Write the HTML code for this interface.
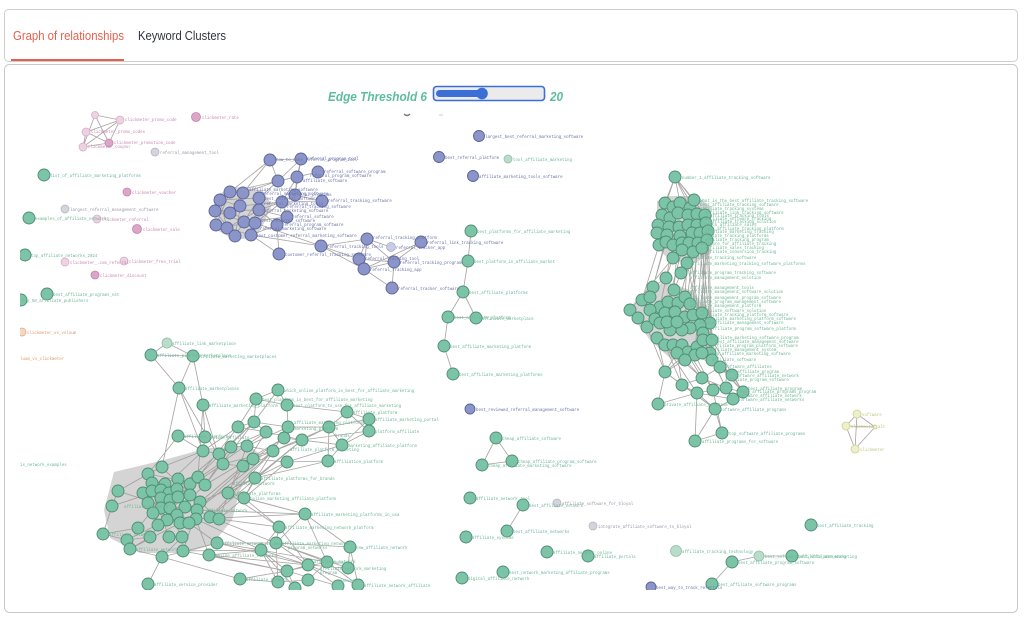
<!DOCTYPE html>
<html><head><meta charset="utf-8"><style>
html,body{margin:0;padding:0;background:#fff;width:1024px;height:622px;overflow:hidden}
svg{display:block}
.g{fill:#7cc4a7;stroke:#4f8c74;stroke-width:.9}
.gl{fill:#b9dccb;stroke:#93bfa9;stroke-width:.8}
.b{fill:#8b95c9;stroke:#5b6599;stroke-width:.9}
.p{fill:#dba6c8;stroke:#c283ab;stroke-width:.8}
.pl{fill:#ecd3e2;stroke:#d8a9c6;stroke-width:.7}
.q{fill:#d4d4dc;stroke:#b3b3bf;stroke-width:.7}
.y{fill:#eef0cc;stroke:#cdd196;stroke-width:.8}
.o{fill:#f4d8c2;stroke:#d9a985;stroke-width:.7}
text.l{font-family:"Liberation Mono",monospace;font-size:4.1px}
.tg{fill:#6fb697}.tb{fill:#6b74a8}.tp{fill:#c98ab1}.tq{fill:#9a9aa8}.ty{fill:#c2c67e}.to{fill:#dc9a6c}
.e{stroke:#9c9595;stroke-width:.85;fill:none;opacity:.85}
</style></head><body>
<svg width="1024" height="622" viewBox="0 0 1024 622" xmlns="http://www.w3.org/2000/svg">
<defs><clipPath id="cv"><rect x="20" y="68" width="990" height="522"/></clipPath></defs>
<rect x="4.5" y="9.5" width="1013" height="52" rx="4" fill="#fff" stroke="#cfcfcf"/>
<rect x="4.5" y="64.5" width="1013" height="548" rx="5" fill="#fff" stroke="#c9c9c9"/>
<rect x="11" y="59" width="113" height="2" fill="#e5604c"/>
<text x="13" y="40" textLength="111" lengthAdjust="spacingAndGlyphs" font-family="Liberation Sans,sans-serif" font-size="12.5" fill="#e5604c">Graph of relationships</text>
<text x="138" y="40" textLength="88" lengthAdjust="spacingAndGlyphs" font-family="Liberation Sans,sans-serif" font-size="12.5" fill="#31333f">Keyword Clusters</text>
<text x="328" y="101" textLength="99" lengthAdjust="spacingAndGlyphs" font-family="Liberation Sans,sans-serif" font-size="12.5" font-weight="bold" font-style="italic" fill="#5dbd9b">Edge Threshold 6</text>
<rect x="433.5" y="86.5" width="111" height="14" rx="3" fill="#ebebeb" stroke="#3b6fd6" stroke-width="1.6"/>
<rect x="436" y="90" width="46" height="7" rx="3.5" fill="#3b6fd6"/>
<circle cx="482" cy="93.5" r="5.8" fill="#3b6fd6"/>
<text x="550" y="101" textLength="13" lengthAdjust="spacingAndGlyphs" font-family="Liberation Sans,sans-serif" font-size="12.5" font-weight="bold" font-style="italic" fill="#5dbd9b">20</text>
<path d="M404 114 q3 3 6 0" stroke="#777" stroke-width="1.4" fill="none"/>
<path d="M439 115 h4" stroke="#ccc" stroke-width="1"/>

<g clip-path="url(#cv)">
<g fill="#8f8f8f" opacity=".38">
<polygon points="214,196 235,187 262,190 272,205 263,225 256,237 235,240 215,229"/>
<polygon points="657,201 670,196 697,196 711,207 711,253 695,263 670,261 657,247"/>
<polygon points="632,305 646,291 665,281 690,290 711,311 713,343 699,360 671,359 651,341 636,322"/>
<polygon points="114,472 160,461 208,448 250,446 262,456 240,490 232,520 212,545 185,553 140,553 110,538 104,510"/>
</g>
<path class="e" d="
M95 115L120 120M95 115L83 147M95 115L109 143M86 132L120 120M86 132L109 143M120 120L109 143M83 147L109 143M83 147L120 120M86 132L83 147
M270 160L230 192M270 160L301 159M270 160L278 181M301 159L278 181M301 159L297 177M297 177L278 181M318 172L297 177M297 177L295 195M278 181L243 193M278 181L259 198M295 195L282 202M322 201L295 195M282 202L259 210M287 217L282 202M321 246L255 223M279 254L277 225M279 254L251 235M321 246L367 239M321 246L359 259M367 239L359 259M367 239L394 262M359 259L364 269M364 269L394 262M394 262L421 242M364 269L392 288M394 262L392 288M359 259L394 262M367 239L364 269M421 242L364 269M391 247L367 239M321 246L364 269M270 160L243 193M301 159L295 195M318 172L278 181M322 201L282 202M297 177L282 202M287 217L259 210M277 225L287 217M251 235L321 246M270 160L220 200M278 181L230 192
M230 192L243 193M220 200L259 198M215 211L259 210M230 213L255 223M216 225L251 235M227 228L244 222M235 236L259 198M220 200L227 228M230 192L216 225M243 193L235 236M240 206L282 202M259 198L251 235M215 211L244 222M230 213L243 193M220 200L240 206M227 228L259 210M216 225L230 192M255 223L282 202M235 236L215 211M251 235L277 225M244 222L287 217M259 210L277 225
M471 231L468 261M468 261L463 292M463 292L448 317M463 292L476 318M448 317L476 318M448 317L444 346M444 346L453 374
M496 438L482 465M496 438L512 461M482 465L512 461M523 505L507 531M759 556L732 562M759 556L792 556M732 562L712 584
M857 414L846 426M857 414L875 427M846 426L875 427M857 414L855 449M846 426L855 449M875 427L855 449
M675 177L665 203M675 177L694 200M675 177L690 208M675 177L680 203M675 177L708 231M675 177L662 215M675 177L705 215
M673 258L666 278M687 263L681 273M681 273L674 290M666 278L653 287M687 263L685 297M700 233L690 304M707 240L703 333M708 231L712 340M705 215L702 313M697 243L693 315M702 248L710 323M682 250L668 302M673 245L660 307M693 252L678 303M689 243L700 325M698 225L710 353M706 223L712 360M666 242L650 297M659 245L642 300M673 258L630 310M687 263L703 340M702 248L695 355M667 235L653 287M679 227L674 290M693 252L685 317M707 240L697 347
M665 372L657 338M665 372L682 385M682 385L697 393M697 393L713 390M713 390L726 388M726 388L743 392M733 399L743 392M715 409L733 399M715 409L697 393M658 404L665 372M720 367L732 375M702 378L720 367M702 378L682 385M712 360L720 367M685 360L702 378M688 352L665 372M720 367L743 392M732 375L743 392M715 409L722 433M697 393L695 441M722 433L695 441M715 409L695 441M713 390L722 433M710 353L732 375M712 360L726 388M695 355L713 390M677 353L665 372M682 345L702 378M703 340L720 367M665 372L715 409M658 404L697 393M682 385L715 409M726 388L733 399M702 378L726 388M697 393L733 399M665 345L682 385M647 327L665 372
M657 338L702 378M673 345L720 367M688 352L713 390M697 347L732 375M712 340L743 392M703 340L726 388M665 345L697 393M710 353L743 392M677 353L682 385M685 360L665 372
M151 355L167 343M167 343L193 356M151 355L193 356M151 355L179 388M193 356L179 388M179 388L203 451M193 356L203 405M179 388L223 464M203 405L205 437M203 405L218 454M278 390L256 399M278 390L287 405M256 399L287 405M256 399L254 422M287 405L288 427M287 405L347 412M347 412L369 419M347 412L369 431M347 412L329 427M369 419L329 427M369 431L342 445M329 427L342 445M342 445L328 461M329 427L328 461M302 440L329 427M302 440L342 445M288 427L329 427M284 438L342 445M266 432L302 440M238 427L254 422M254 422L288 427M254 422L266 432M238 427L266 432M231 447L247 446M247 446L273 451M273 451L302 440M287 462L328 461M253 459L287 462M243 466L253 459M223 464L243 466M219 454L231 447M205 437L203 451M178 436L203 451M178 436L205 437M203 451L219 454M255 478L287 462M228 493L255 478M244 498L255 478M228 493L244 498M244 498L305 514M244 498L279 527M228 493L279 527M279 527L276 543M276 543L350 547M276 543L308 565M276 543L327 562M261 550L308 565M261 550L287 571M217 543L261 550M209 555L261 550M261 550L278 582M287 571L308 565M287 571L327 562M308 565L348 568M327 562L358 585M338 586L308 565M308 580L327 562M278 582L308 580M295 588L287 571M240 579L278 582M162 557L240 579M148 584L162 557M350 547L358 585M350 547L348 568
M217 543L308 565M209 555L287 571M261 550L327 562M276 543L348 568M279 527L308 565M305 514L327 562M261 550L295 588M276 543L278 582M287 571L338 586M308 565L358 585M240 579L287 571M279 527L261 550M305 514L276 543
M200 502L255 478M205 485L254 422M198 477L238 427M190 484L266 432M205 485L284 438M197 510L273 451M210 517L302 440M219 519L287 462M196 519L305 514M219 519L279 527M210 517L276 543M183 551L261 550M217 543L276 543M196 519L261 550M209 555L308 565M183 551L287 571M162 557L217 543M130 549L162 557M103 534L127 540M103 534L112 506M112 506L118 491M118 491L148 474M103 534L138 528M127 540L150 537M130 549L150 537M162 467L148 474M162 467L203 451M179 388L162 467M178 436L148 474M305 514L227 493M305 514L197 510M305 514L350 547M203 405L198 477M238 427L203 451M231 447L205 485M247 446L219 519M266 432L227 493M288 427L244 498M302 440L255 478M254 422L190 484M273 451L210 517M342 445L287 462M328 461L255 478M369 431L302 440M369 419L342 445M278 390L254 422M256 399L238 427
M247 446L288 427M231 447L266 432M219 454L254 422M243 466L284 438M253 459L302 440M223 464L273 451M203 451L238 427M273 451L329 427M287 462L342 445M255 478L328 461M244 498L287 462M228 493L273 451
M143 493L177 489M152 483L190 495M148 503L197 510M161 508L185 507M153 513L196 519M165 484L200 502M148 474L178 497M161 490L177 515M170 500L189 523M158 525L190 484M138 528L178 479M150 537L198 477M167 520L205 485M180 523L143 493M169 537L152 491M182 537L161 498M118 491L170 508M112 506L161 490M127 540L167 520M130 549L180 523M183 551L197 510M209 555L196 519M217 543L189 523M162 557L182 537M148 474L205 485M152 483L210 517M161 467L219 519M203 451L161 490M218 454L177 489M223 464L170 500M243 466L200 502M253 459L197 510
"/>
<circle class="pl" cx="95" cy="115" r="3.5"/>
<circle class="pl" cx="120" cy="120" r="4"/>
<circle class="pl" cx="86" cy="132" r="4"/>
<circle class="p" cx="109" cy="143" r="4"/>
<circle class="pl" cx="83" cy="147" r="4"/>
<circle class="p" cx="196" cy="117" r="4.5"/>
<circle class="p" cx="127" cy="192" r="4"/>
<circle class="pl" cx="97" cy="219" r="4"/>
<circle class="p" cx="137" cy="229" r="4.5"/>
<circle class="pl" cx="124" cy="261" r="4"/>
<circle class="pl" cx="65" cy="262" r="4"/>
<circle class="p" cx="95" cy="275" r="4"/>
<circle class="q" cx="155" cy="152" r="4"/>
<circle class="q" cx="65" cy="209" r="4"/>
<circle class="q" cx="557" cy="503" r="4"/>
<circle class="q" cx="593" cy="526" r="4"/>
<circle class="o" cx="22" cy="332" r="4"/>
<circle class="y" cx="857" cy="414" r="4"/>
<circle class="y" cx="846" cy="426" r="4"/>
<circle class="y" cx="875" cy="427" r="2"/>
<circle class="y" cx="855" cy="449" r="4"/>
<g class="b">
<circle cx="270" cy="160" r="6"/><circle cx="301" cy="159" r="6"/><circle cx="278" cy="181" r="6"/><circle cx="297" cy="177" r="6"/><circle cx="318" cy="172" r="6"/>
<circle cx="230" cy="192" r="6"/><circle cx="243" cy="193" r="6"/><circle cx="220" cy="200" r="6"/><circle cx="259" cy="198" r="6"/><circle cx="282" cy="202" r="6"/><circle cx="295" cy="195" r="6"/><circle cx="322" cy="201" r="6"/>
<circle cx="215" cy="211" r="6"/><circle cx="230" cy="213" r="6"/><circle cx="240" cy="206" r="6"/><circle cx="259" cy="210" r="6"/><circle cx="287" cy="217" r="6"/>
<circle cx="216" cy="225" r="6"/><circle cx="227" cy="228" r="6"/><circle cx="244" cy="222" r="6"/><circle cx="255" cy="223" r="6"/><circle cx="277" cy="225" r="6"/>
<circle cx="235" cy="236" r="6"/><circle cx="251" cy="235" r="6"/><circle cx="279" cy="254" r="6"/><circle cx="321" cy="246" r="6"/><circle cx="367" cy="239" r="6"/><circle cx="359" cy="259" r="6"/><circle cx="364" cy="269" r="6"/><circle cx="394" cy="262" r="6"/><circle cx="421" cy="242" r="6"/><circle cx="392" cy="288" r="6"/>
<circle cx="479" cy="136" r="5.5"/><circle cx="439" cy="157" r="5.5"/><circle cx="473" cy="176" r="5.5"/><circle cx="470" cy="409" r="5"/><circle cx="651" cy="587" r="5"/>
</g>
<circle cx="391" cy="247" r="4.5" fill="#c8cbe4" stroke="#a3a8cc" stroke-width=".7"/>
<circle class="gl" cx="508" cy="159" r="4"/>
<circle class="gl" cx="167" cy="343" r="5"/>
<circle class="gl" cx="676" cy="551" r="5.5"/>
<circle class="gl" cx="759" cy="556" r="5"/>
<g class="g">
<circle cx="44" cy="175" r="6"/><circle cx="29" cy="218" r="6"/><circle cx="25" cy="255" r="6"/><circle cx="47" cy="294" r="6"/><circle cx="21" cy="300" r="6"/>
<circle cx="471" cy="231" r="6"/><circle cx="468" cy="261" r="6"/><circle cx="463" cy="292" r="6"/><circle cx="448" cy="317" r="6"/><circle cx="476" cy="318" r="6"/><circle cx="444" cy="346" r="6"/><circle cx="453" cy="374" r="6"/>
<circle cx="496" cy="438" r="6"/><circle cx="482" cy="465" r="6"/><circle cx="512" cy="461" r="6"/>
<circle cx="470" cy="498" r="6"/><circle cx="523" cy="505" r="6"/><circle cx="507" cy="531" r="6"/><circle cx="466" cy="537" r="6"/><circle cx="547" cy="552" r="6"/><circle cx="588" cy="556" r="6"/><circle cx="503" cy="572" r="6"/><circle cx="462" cy="578" r="6"/>
<circle cx="811" cy="525" r="6"/><circle cx="792" cy="556" r="6"/><circle cx="732" cy="562" r="6"/><circle cx="712" cy="584" r="6"/>
<circle cx="675" cy="177" r="6"/>
<circle cx="665" cy="203" r="6"/><circle cx="673" cy="207" r="6"/><circle cx="680" cy="203" r="6"/><circle cx="690" cy="208" r="6"/><circle cx="694" cy="200" r="6"/>
<circle cx="662" cy="215" r="6"/><circle cx="670" cy="218" r="6"/><circle cx="678" cy="213" r="6"/><circle cx="688" cy="215" r="6"/><circle cx="697" cy="214" r="6"/><circle cx="705" cy="215" r="6"/>
<circle cx="658" cy="225" r="6"/><circle cx="669" cy="227" r="6"/><circle cx="679" cy="227" r="6"/><circle cx="688" cy="225" r="6"/><circle cx="697" cy="225" r="6"/><circle cx="706" cy="223" r="6"/>
<circle cx="657" cy="233" r="6"/><circle cx="667" cy="235" r="6"/><circle cx="680" cy="236" r="6"/><circle cx="692" cy="233" r="6"/><circle cx="700" cy="233" r="6"/><circle cx="708" cy="231" r="6"/>
<circle cx="659" cy="245" r="6"/><circle cx="666" cy="242" r="6"/><circle cx="673" cy="245" r="6"/><circle cx="682" cy="243" r="6"/><circle cx="689" cy="243" r="6"/><circle cx="698" cy="243" r="6"/><circle cx="707" cy="240" r="6"/>
<circle cx="682" cy="250" r="6"/><circle cx="693" cy="252" r="6"/><circle cx="702" cy="248" r="6"/><circle cx="673" cy="258" r="6"/><circle cx="687" cy="263" r="6"/>
<circle cx="681" cy="273" r="6"/><circle cx="666" cy="278" r="6"/><circle cx="653" cy="287" r="6"/><circle cx="674" cy="290" r="6"/>
<circle cx="642" cy="300" r="6"/><circle cx="650" cy="297" r="6"/><circle cx="630" cy="310" r="6"/><circle cx="638" cy="318" r="6"/><circle cx="647" cy="327" r="6"/>
<circle cx="660" cy="307" r="6"/><circle cx="668" cy="302" r="6"/><circle cx="678" cy="303" r="6"/><circle cx="685" cy="297" r="6"/><circle cx="690" cy="304" r="6"/>
<circle cx="650" cy="310" r="6"/><circle cx="655" cy="319" r="6"/><circle cx="665" cy="313" r="6"/><circle cx="675" cy="312" r="6"/><circle cx="685" cy="317" r="6"/><circle cx="693" cy="315" r="6"/><circle cx="702" cy="313" r="6"/>
<circle cx="710" cy="323" r="6"/><circle cx="700" cy="325" r="6"/><circle cx="690" cy="328" r="6"/><circle cx="682" cy="330" r="6"/><circle cx="670" cy="330" r="6"/><circle cx="660" cy="323" r="6"/><circle cx="667" cy="322" r="6"/><circle cx="677" cy="322" r="6"/><circle cx="703" cy="333" r="6"/>
<circle cx="657" cy="338" r="6"/><circle cx="665" cy="345" r="6"/><circle cx="673" cy="345" r="6"/><circle cx="682" cy="345" r="6"/><circle cx="688" cy="352" r="6"/><circle cx="697" cy="347" r="6"/><circle cx="703" cy="340" r="6"/><circle cx="712" cy="340" r="6"/>
<circle cx="710" cy="353" r="6"/><circle cx="695" cy="355" r="6"/><circle cx="677" cy="353" r="6"/><circle cx="685" cy="360" r="6"/><circle cx="712" cy="360" r="6"/><circle cx="702" cy="353" r="6"/>
<circle cx="665" cy="372" r="6"/><circle cx="682" cy="385" r="6"/><circle cx="697" cy="393" r="6"/><circle cx="713" cy="390" r="6"/><circle cx="726" cy="388" r="6"/><circle cx="743" cy="392" r="6"/><circle cx="733" cy="399" r="6"/><circle cx="715" cy="409" r="6"/><circle cx="658" cy="404" r="6"/>
<circle cx="720" cy="367" r="6"/><circle cx="732" cy="375" r="6"/><circle cx="702" cy="378" r="6"/>
<circle cx="722" cy="433" r="6"/><circle cx="695" cy="441" r="6"/>
<circle cx="151" cy="355" r="6"/><circle cx="193" cy="356" r="6"/><circle cx="179" cy="388" r="6"/><circle cx="203" cy="405" r="6"/>
<circle cx="278" cy="390" r="6"/><circle cx="256" cy="399" r="6"/><circle cx="287" cy="405" r="6"/><circle cx="347" cy="412" r="6"/><circle cx="369" cy="419" r="6"/><circle cx="369" cy="431" r="6"/><circle cx="329" cy="427" r="6"/><circle cx="342" cy="445" r="6"/><circle cx="328" cy="461" r="6"/>
<circle cx="178" cy="436" r="6"/><circle cx="205" cy="437" r="6"/><circle cx="203" cy="451" r="6"/><circle cx="219" cy="454" r="6"/><circle cx="231" cy="447" r="6"/><circle cx="247" cy="446" r="6"/><circle cx="254" cy="422" r="6"/><circle cx="238" cy="427" r="6"/><circle cx="266" cy="432" r="6"/><circle cx="288" cy="427" r="6"/><circle cx="284" cy="438" r="6"/><circle cx="302" cy="440" r="6"/><circle cx="273" cy="451" r="6"/><circle cx="287" cy="462" r="6"/><circle cx="253" cy="459" r="6"/><circle cx="243" cy="466" r="6"/><circle cx="223" cy="464" r="6"/>
<circle cx="255" cy="478" r="6"/><circle cx="228" cy="493" r="6"/><circle cx="244" cy="498" r="6"/><circle cx="305" cy="514" r="6"/><circle cx="279" cy="527" r="6"/><circle cx="276" cy="543" r="6"/><circle cx="350" cy="547" r="6"/><circle cx="261" cy="550" r="6"/><circle cx="217" cy="543" r="6"/><circle cx="209" cy="555" r="6"/>
<circle cx="308" cy="565" r="6"/><circle cx="327" cy="562" r="6"/><circle cx="348" cy="568" r="6"/><circle cx="287" cy="571" r="6"/><circle cx="240" cy="579" r="6"/><circle cx="278" cy="582" r="6"/><circle cx="308" cy="580" r="6"/><circle cx="338" cy="586" r="6"/><circle cx="358" cy="585" r="6"/><circle cx="295" cy="588" r="6"/>
<circle cx="162" cy="467" r="6"/><circle cx="148" cy="474" r="6"/><circle cx="152" cy="483" r="6"/><circle cx="165" cy="484" r="6"/><circle cx="178" cy="479" r="6"/><circle cx="190" cy="484" r="6"/><circle cx="198" cy="477" r="6"/><circle cx="205" cy="485" r="6"/>
<circle cx="118" cy="491" r="6"/><circle cx="143" cy="493" r="6"/><circle cx="152" cy="491" r="6"/><circle cx="161" cy="490" r="6"/><circle cx="169" cy="493" r="6"/><circle cx="177" cy="489" r="6"/><circle cx="190" cy="495" r="6"/><circle cx="200" cy="502" r="6"/>
<circle cx="148" cy="503" r="6"/><circle cx="161" cy="498" r="6"/><circle cx="170" cy="500" r="6"/><circle cx="178" cy="497" r="6"/><circle cx="185" cy="507" r="6"/><circle cx="161" cy="508" r="6"/><circle cx="170" cy="508" r="6"/><circle cx="153" cy="513" r="6"/><circle cx="177" cy="515" r="6"/><circle cx="197" cy="510" r="6"/><circle cx="196" cy="519" r="6"/><circle cx="210" cy="517" r="6"/><circle cx="219" cy="519" r="6"/>
<circle cx="112" cy="506" r="6"/><circle cx="167" cy="520" r="6"/><circle cx="158" cy="525" r="6"/><circle cx="180" cy="523" r="6"/><circle cx="189" cy="523" r="6"/><circle cx="138" cy="528" r="6"/><circle cx="103" cy="534" r="6"/><circle cx="127" cy="540" r="6"/><circle cx="150" cy="537" r="6"/><circle cx="169" cy="537" r="6"/><circle cx="182" cy="537" r="6"/>
<circle cx="130" cy="549" r="6"/><circle cx="183" cy="551" r="6"/><circle cx="162" cy="557" r="6"/><circle cx="148" cy="584" r="6"/>
</g>
<g>
<text class="l tp" x="125" y="121">clickmeter_promo_code</text>
<text class="l tp" x="91" y="133">clickmeter_promo_codes</text>
<text class="l tp" x="114" y="144">clickmeter_promotion_code</text>
<text class="l tp" x="88" y="148">clickmeter_coupon</text>
<text class="l tp" x="202" y="119">clickmeter_rate</text>
<text class="l tq" x="160" y="154">referral_management_tool</text>
<text class="l tg" x="50" y="177">list_of_affiliate_marketing_platforms</text>
<text class="l tp" x="132" y="194">clickmeter_voucher</text>
<text class="l tq" x="70" y="211">largest_referral_management_software</text>
<text class="l tg" x="35" y="220">examples_of_affiliate_networks</text>
<text class="l tp" x="102" y="221">clickmeter_referral</text>
<text class="l tp" x="143" y="231">clickmeter_sale</text>
<text class="l tg" x="31" y="257">top_affiliate_networks_2024</text>
<text class="l tp" x="129" y="263">clickmeter_free_trial</text>
<text class="l tp" x="70" y="264">clickmeter_.com_referral</text>
<text class="l tp" x="100" y="277">clickmeter_discount</text>
<text class="l tg" x="53" y="296">best_affiliate_programs_net</text>
<text class="l tg" x="22" y="302">top_50_affiliate_publishers</text>
<text class="l to" x="27" y="334">clickmeter_vs_voluum</text>
<text class="l to" x="20" y="360">luum_vs_clickmeter</text>
<text class="l tg" x="20" y="466">is_network_examples</text>
<text class="l tb" x="276" y="161">how_to_make_referral_program_tool</text>
<text class="l tb" x="307" y="160">referral_program_tool</text>
<text class="l tb" x="324" y="173">referral_software_program</text>
<text class="l tb" x="310" y="177">referral_program_software</text>
<text class="l tb" x="303" y="182">affiliate_software</text>
<text class="l tb" x="249" y="191">affiliate_marketing_software</text>
<text class="l tb" x="262" y="195">referral_marketing_software</text>
<text class="l tb" x="290" y="196">referral_programs</text>
<text class="l tb" x="264" y="200">best_referral_software</text>
<text class="l tb" x="328" y="202">referral_tracking_software</text>
<text class="l tb" x="264" y="205">referral_marketing_tools</text>
<text class="l tb" x="287" y="208">referral_tracking_software</text>
<text class="l tb" x="262" y="212">referral_marketing_software</text>
<text class="l tb" x="292" y="218">referral_software</text>
<text class="l tb" x="261" y="222">best_referral_software</text>
<text class="l tb" x="282" y="226">referral_program_software</text>
<text class="l tb" x="260" y="230">referral_marketing_software</text>
<text class="l tb" x="256" y="237">best_customer_referral_marketing_software</text>
<text class="l tb" x="373" y="239">referral_tracking_platform</text>
<text class="l tb" x="327" y="248">referral_tracking_tools</text>
<text class="l tb" x="396" y="249">referral_tracker_app</text>
<text class="l tb" x="427" y="244">referral_link_tracking_software</text>
<text class="l tb" x="285" y="256">customer_referral_tracking_software</text>
<text class="l tb" x="365" y="260">referral_tracking_tool</text>
<text class="l tb" x="400" y="264">referral_tracking_program</text>
<text class="l tb" x="370" y="271">referral_tracking_app</text>
<text class="l tb" x="398" y="290">referral_tracker_software</text>
<text class="l tb" x="485" y="138">largest_best_referral_marketing_software</text>
<text class="l tb" x="445" y="159">best_referral_platform</text>
<text class="l tg" x="513" y="161">tool_affiliate_marketing</text>
<text class="l tb" x="479" y="178">affiliate_marketing_tools_software</text>
<text class="l tb" x="476" y="411">best_reviewed_referral_management_software</text>
<text class="l tb" x="656" y="589">best_way_to_track_referrals</text>
<text class="l tg" x="477" y="233">best_platforms_for_affiliate_marketing</text>
<text class="l tg" x="474" y="263">best_platform_in_affiliate_market</text>
<text class="l tg" x="469" y="294">best_affiliate_platforms</text>
<text class="l tg" x="454" y="319">best_affiliate_platform</text>
<text class="l tg" x="482" y="320">affiliate_marketplace</text>
<text class="l tg" x="450" y="348">best_affiliate_marketing_platform</text>
<text class="l tg" x="459" y="376">best_affiliate_marketing_platforms</text>
<text class="l tg" x="502" y="440">cheap_affiliate_software</text>
<text class="l tg" x="488" y="467">cheap_affiliate_marketing_software</text>
<text class="l tg" x="518" y="463">cheap_affiliate_program_software</text>
<text class="l tg" x="476" y="500">affiliate_network_tool</text>
<text class="l tg" x="529" y="507">best_affiliate_network</text>
<text class="l tq" x="562" y="505">affiliate_software_for_bloyal</text>
<text class="l tg" x="513" y="533">best_affiliate_networks</text>
<text class="l tq" x="598" y="528">integrate_affiliate_software_to_bloyal</text>
<text class="l tg" x="472" y="539">affiliate_systems</text>
<text class="l tg" x="553" y="554">affiliate_network_online</text>
<text class="l tg" x="594" y="558">affiliate_portals</text>
<text class="l tg" x="682" y="553">affiliate_tracking_technology</text>
<text class="l tg" x="817" y="527">best_affiliate_tracking</text>
<text class="l tg" x="765" y="558">best_software_affiliate_marketing</text>
<text class="l tg" x="798" y="558">best_affiliate_marketing</text>
<text class="l tg" x="738" y="564">best_affiliate_program_software</text>
<text class="l tg" x="509" y="574">best_network_marketing_affiliate_programs</text>
<text class="l tg" x="468" y="580">digital_affiliate_network</text>
<text class="l tg" x="718" y="586">best_affiliate_software_programs</text>
<text class="l ty" x="862" y="416">software</text>
<text class="l ty" x="851" y="428">clickmeter_alt</text>
<text class="l ty" x="860" y="451">clickmeter</text>
<text class="l tg" x="682" y="179">number_1_affiliate_tracking_software</text>
<text class="l tg" x="700" y="202">what_is_the_best_affiliate_tracking_software</text>
<text class="l tg" x="700" y="206">best_affiliate_tracking_software</text>
<text class="l tg" x="700" y="210">affiliate_tracking_systems</text>
<text class="l tg" x="705" y="214">affiliate_link_tracking_software</text>
<text class="l tg" x="710" y="217">affiliate_tracking_tools</text>
<text class="l tg" x="705" y="220">affiliate_software_tracking</text>
<text class="l tg" x="710" y="223">affiliate_tracking_solution</text>
<text class="l tg" x="705" y="226">track_affiliate_sales</text>
<text class="l tg" x="705" y="230">best_affiliate_tracking_platform</text>
<text class="l tg" x="705" y="233">affiliate_marketing_tracking</text>
<text class="l tg" x="700" y="237">affiliate_tracking_platforms</text>
<text class="l tg" x="705" y="241">affiliate_tracking_program</text>
<text class="l tg" x="700" y="245">software_for_affiliate_tracking</text>
<text class="l tg" x="705" y="249">affiliate_sales_tracking</text>
<text class="l tg" x="705" y="253">affiliate_conversion_tracking</text>
<text class="l tg" x="690" y="259">affiliate_tracking_software</text>
<text class="l tg" x="690" y="265">affiliate_marketing_tracking_software_platforms</text>
<text class="l tg" x="690" y="274">affiliate_program_tracking_software</text>
<text class="l tg" x="690" y="279">affiliate_management_solution</text>
<text class="l tg" x="690" y="289">affiliate_management_tools</text>
<text class="l tg" x="690" y="293">affiliate_management_software_solution</text>
<text class="l tg" x="690" y="299">affiliate_management_program_software</text>
<text class="l tg" x="690" y="303">affiliate_program_management_software</text>
<text class="l tg" x="690" y="307">affiliate_management_platform</text>
<text class="l tg" x="700" y="312">affiliate_software_solution</text>
<text class="l tg" x="700" y="316">affiliate_tracking_platform_software</text>
<text class="l tg" x="705" y="320">affiliate_marketing_platform_software</text>
<text class="l tg" x="700" y="324">best_affiliate_management_software</text>
<text class="l tg" x="710" y="330">affiliate_program_software_platform</text>
<text class="l tg" x="710" y="339">affiliate_marketing_software_program</text>
<text class="l tg" x="715" y="343">best_affiliate_management_software</text>
<text class="l tg" x="712" y="347">affiliate_program_platform_software</text>
<text class="l tg" x="710" y="351">affiliate_management_system</text>
<text class="l tg" x="712" y="355">top_affiliate_marketing_software</text>
<text class="l tg" x="712" y="361">affiliate_software</text>
<text class="l tg" x="725" y="368">software_affiliates</text>
<text class="l tg" x="725" y="373">best_affiliate_program</text>
<text class="l tg" x="735" y="377">software_affiliate_network</text>
<text class="l tg" x="725" y="381">affiliate_program_software</text>
<text class="l tg" x="748" y="390">best_affiliate_program</text>
<text class="l tg" x="740" y="393">best_affiliate_programs_program</text>
<text class="l tg" x="738" y="397">software_affiliate_network</text>
<text class="l tg" x="738" y="401">software_affiliate_networks</text>
<text class="l tg" x="720" y="411">software_affiliate_programs</text>
<text class="l tg" x="664" y="406">private_affiliate_programs</text>
<text class="l tg" x="729" y="435">top_software_affiliate_programs</text>
<text class="l tg" x="702" y="443">affiliate_programs_for_software</text>
<text class="l tg" x="172" y="345">affiliate_link_marketplace</text>
<text class="l tg" x="157" y="357">affiliate_platform_marketplace</text>
<text class="l tg" x="198" y="358">affiliate_marketing_marketplaces</text>
<text class="l tg" x="185" y="390">affiliate_marketplaces</text>
<text class="l tg" x="209" y="407">affiliate_marketing_platform</text>
<text class="l tg" x="284" y="392">which_online_platform_is_best_for_affiliate_marketing</text>
<text class="l tg" x="262" y="401">best_platform_is_best_for_affiliate_marketing</text>
<text class="l tg" x="293" y="407">best_platform_to_use_for_affiliate_marketing</text>
<text class="l tg" x="353" y="414">affiliate_platform</text>
<text class="l tg" x="375" y="421">affiliate_marketing_portal</text>
<text class="l tg" x="294" y="424">affiliate_marketing_platforms</text>
<text class="l tg" x="375" y="433">platform_affiliate</text>
<text class="l tg" x="294" y="430">marketing_platform</text>
<text class="l tg" x="335" y="437">brands</text>
<text class="l tg" x="348" y="447">marketing_affiliate_platform</text>
<text class="l tg" x="290" y="451">affiliate_platform_marketing</text>
<text class="l tg" x="334" y="463">affiliation_platform</text>
<text class="l tg" x="210" y="439">online_affiliate</text>
<text class="l tg" x="184" y="438">affiliate_platforms</text>
<text class="l tg" x="261" y="480">affiliate_platforms_for_brands</text>
<text class="l tg" x="233" y="485">affiliate_network</text>
<text class="l tg" x="234" y="495">affiliate_platforms</text>
<text class="l tg" x="250" y="500">online_marketing_affiliate_platform</text>
<text class="l tg" x="311" y="516">affiliate_marketing_platforms_in_usa</text>
<text class="l tg" x="285" y="529">affiliate_marketing_network_platform</text>
<text class="l tg" x="206" y="512">affiliate_network</text>
<text class="l tg" x="124" y="508">affiliate_networks</text>
<text class="l tg" x="109" y="536">affiliate_network</text>
<text class="l tg" x="136" y="551">affiliate_network</text>
<text class="l tg" x="282" y="545">affiliate_marketing_network</text>
<text class="l tg" x="288" y="549">program_networks</text>
<text class="l tg" x="222" y="545">affiliate_network_is_usa</text>
<text class="l tg" x="215" y="557">online_affiliate_networks</text>
<text class="l tg" x="356" y="549">new_affiliate_network</text>
<text class="l tg" x="314" y="563">affiliate_network</text>
<text class="l tg" x="333" y="564">network</text>
<text class="l tg" x="320" y="570">affiliate_network_marketing</text>
<text class="l tg" x="320" y="574">program</text>
<text class="l tg" x="340" y="582">network</text>
<text class="l tg" x="364" y="587">affiliate_network_affiliate</text>
<text class="l tg" x="246" y="581">affiliate_network</text>
<text class="l tg" x="154" y="586">affiliate_service_provider</text>
</g>
</g>
</svg>
</body></html>
